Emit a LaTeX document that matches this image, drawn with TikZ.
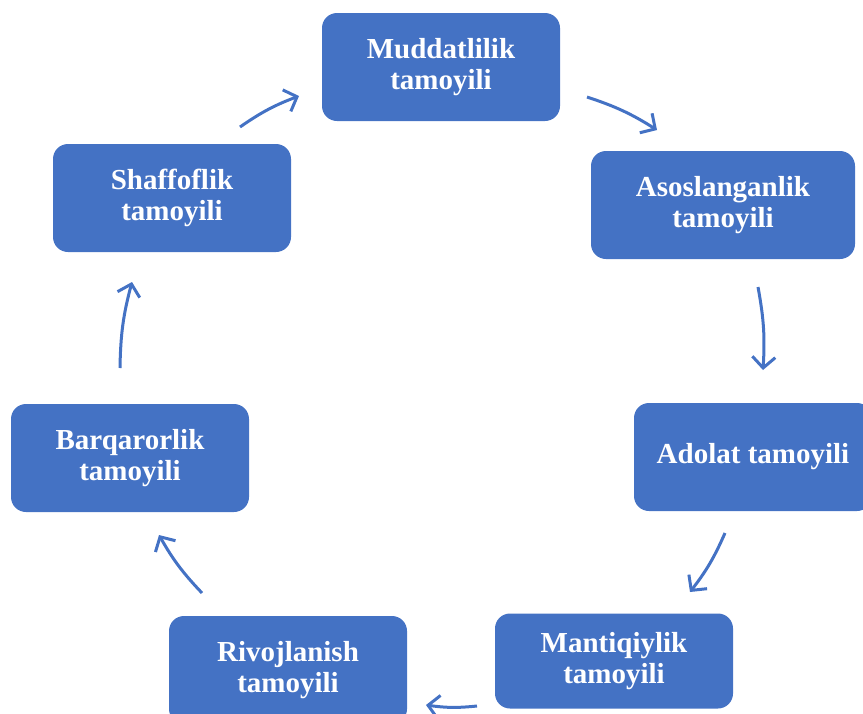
\documentclass[tikz,border=0pt]{standalone}
\usepackage{fontspec}
\setmainfont{Liberation Serif}
\usetikzlibrary{arrows.meta}
\definecolor{boxblue}{HTML}{4472C4}

\begin{document}
\begin{tikzpicture}[
        x=1pt, y=-1pt,
        principle/.style={rectangle, rounded corners=15pt, fill=boxblue,
            text=white, align=center, inner sep=0pt,
            font=\bfseries\fontsize{29}{31}\selectfont,
            minimum width=238pt, minimum height=108pt},
        cycle arrow/.style={boxblue, line width=3pt,
            -{Straight Barb[length=11pt, width=23pt]}},
    ]

    \useasboundingbox (0,0) rectangle (863,713);

    \node[principle] (muddat) at (441,67) {Muddatlilik\\tamoyili};
    \node[principle, minimum width=264pt] (asos) at (723,205) {Asoslanganlik\\tamoyili};
    \node[principle] (adolat) at (753,457) {Adolat tamoyili};
    \node[principle, minimum height=95pt] (mantiq) at (614,661) {Mantiqiylik\\tamoyili};
    \node[principle] (rivoj) at (288,670) {Rivojlanish\\tamoyili};
    \node[principle] (barqaror) at (130,458) {Barqarorlik\\tamoyili};
    \node[principle] (shaffof) at (172,198) {Shaffoflik\\tamoyili};

    % ends of the arrows round the cycle
    \coordinate (t1) at (240,127); \coordinate (h1) at (299,96);
    \coordinate (t2) at (587,97);  \coordinate (h2) at (657,130);
    \coordinate (t3) at (758,287); \coordinate (h3) at (763,370);
    \coordinate (t4) at (725,533); \coordinate (h4) at (690,592);
    \coordinate (t5) at (477,706); \coordinate (h5) at (426,705);
    \coordinate (t6) at (202,593); \coordinate (h6) at (159,535);
    \coordinate (t7) at (120,368); \coordinate (h7) at (132,282);

    \foreach \i in {1,...,7}
        \draw[cycle arrow] (t\i) to[bend left=7] (h\i);
\end{tikzpicture}
\end{document}
